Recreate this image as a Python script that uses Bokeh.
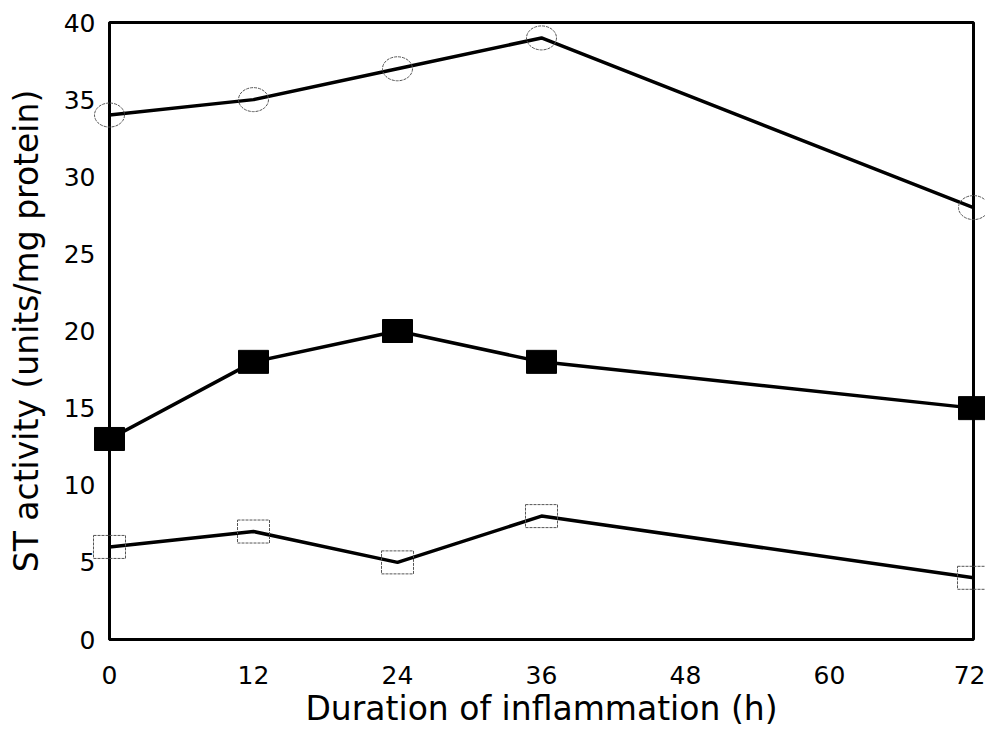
from bokeh.plotting import figure
from bokeh.models import Range1d, FixedTicker
from bokeh.embed import file_html
from bokeh.resources import INLINE

hours = [0, 12, 24, 36, 72]
open_circles = [34, 35, 37, 39, 28]
filled_squares = [13, 18, 20, 18, 15]
open_squares = [6, 7, 5, 8, 4]
x_ticks = [0, 12, 24, 36, 48, 60, 72]
y_ticks = [0, 5, 10, 15, 20, 25, 30, 35, 40]

p = figure(width=985, height=740, output_backend="svg", toolbar_location=None,
           x_range=Range1d(0, 72), y_range=Range1d(0, 40),
           min_border_left=109, min_border_top=22, min_border_right=12, min_border_bottom=101)
p.outline_line_color = "black"
p.outline_line_width = 3
p.grid.visible = False
p.background_fill_color = "white"
p.border_fill_color = "white"

for ax in (p.xaxis[0], p.yaxis[0]):
    ax.axis_line_width = 3
    ax.axis_line_color = "black"
    ax.major_tick_line_color = None
    ax.minor_tick_line_color = None
    ax.major_label_text_font = "DejaVu Sans"
    ax.major_label_text_font_size = "25px"
    ax.major_label_text_color = "black"
    ax.axis_label_text_font = "DejaVu Sans"
    ax.axis_label_text_font_size = "33px"
    ax.axis_label_text_font_style = "normal"
    ax.axis_label_text_color = "black"

p.xaxis.ticker = FixedTicker(ticks=x_ticks)
p.yaxis.ticker = FixedTicker(ticks=y_ticks)
p.xaxis.axis_label = "Duration of inflammation (h)"
p.yaxis.axis_label = "ST activity (units/mg protein)"
p.xaxis.major_label_standoff = 20
p.xaxis.axis_label_standoff = 2
p.yaxis.major_label_standoff = 8
p.yaxis.axis_label_standoff = 15

for ys in (open_circles, filled_squares, open_squares):
    p.line(hours, ys, line_color="black", line_width=3.5)

r1 = p.ellipse(hours, open_circles, width=30, height=24, width_units="screen", height_units="screen",
               fill_color=None, line_color="#555555", line_width=1, line_dash="3 1")
r2 = p.rect(hours, filled_squares, width=30, height=23, width_units="screen", height_units="screen",
            fill_color="black", line_color="black")
r3 = p.rect(hours, open_squares, width=32, height=23, width_units="screen", height_units="screen",
            fill_color=None, line_color="#555555", line_width=1, line_dash="3 1")
for r in (r1, r2, r3):
    r.level = "overlay"

open("out.html", "w").write(file_html(p, INLINE))
